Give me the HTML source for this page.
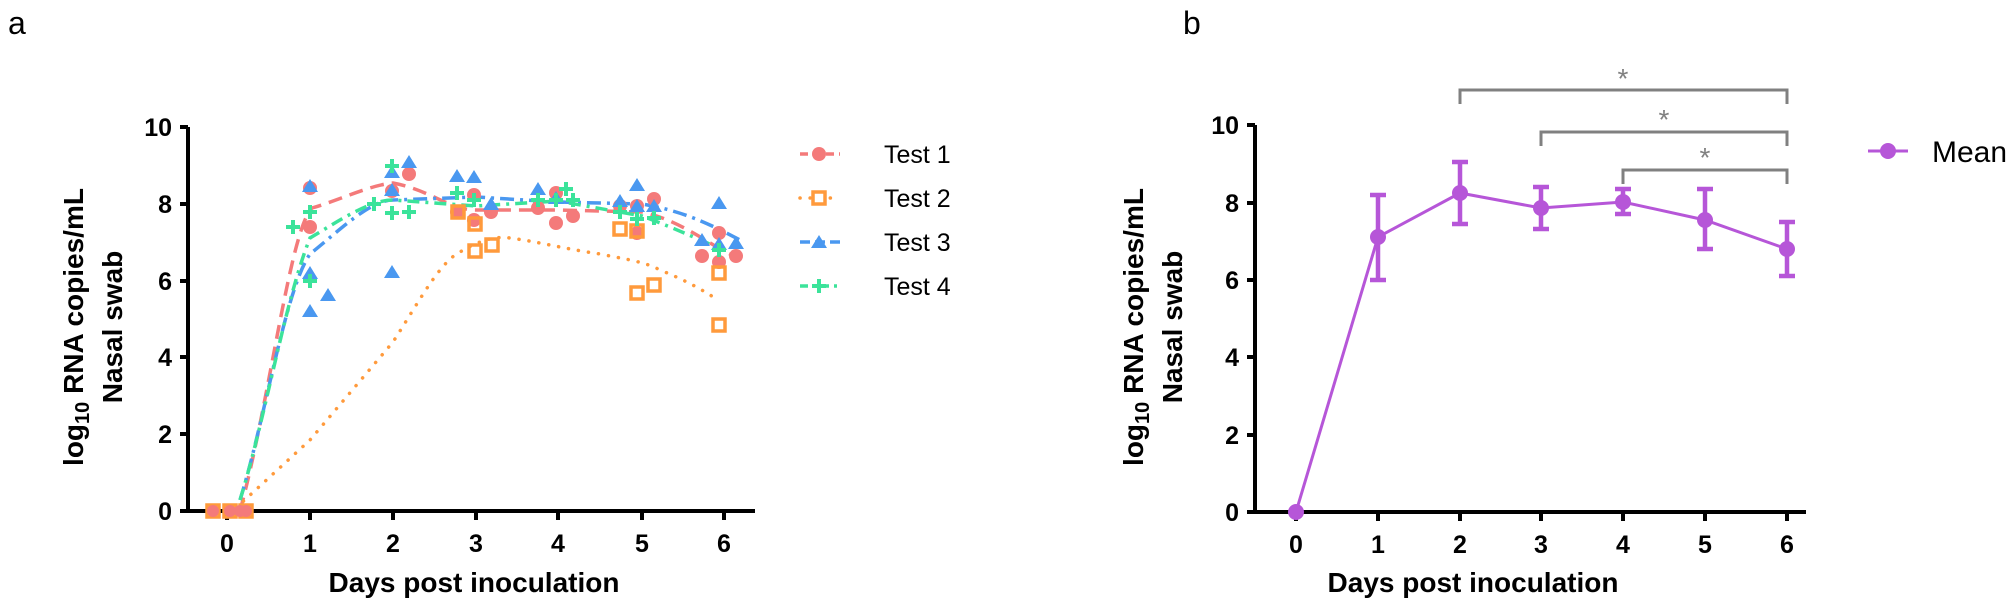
<!DOCTYPE html>
<html><head><meta charset="utf-8"><style>
html,body{margin:0;padding:0;background:#fff;}
svg{display:block;font-family:"Liberation Sans",Arial,sans-serif;}
.tk{font-size:25px;font-weight:bold;fill:#000;}
.lab{font-size:28px;font-weight:bold;fill:#000;}
</style></head><body>
<svg width="2008" height="606" viewBox="0 0 2008 606" xmlns="http://www.w3.org/2000/svg">
<rect width="2008" height="606" fill="#fff"/>
<text x="8" y="34" font-size="32" fill="#000">a</text>
<text x="1183" y="34" font-size="32" fill="#000">b</text>

<!-- PANEL A -->
<g stroke="#000" stroke-width="4" fill="none">
<polyline points="188,127 188,511 755,511"/>
<line x1="180" y1="127" x2="188" y2="127"/><line x1="180" y1="204" x2="188" y2="204"/>
<line x1="180" y1="281" x2="188" y2="281"/><line x1="180" y1="357" x2="188" y2="357"/>
<line x1="180" y1="434" x2="188" y2="434"/><line x1="180" y1="511" x2="188" y2="511"/>
<line x1="227" y1="511" x2="227" y2="520"/><line x1="310" y1="511" x2="310" y2="520"/>
<line x1="393" y1="511" x2="393" y2="520"/><line x1="476" y1="511" x2="476" y2="520"/>
<line x1="558" y1="511" x2="558" y2="520"/><line x1="642" y1="511" x2="642" y2="520"/>
<line x1="724" y1="511" x2="724" y2="520"/>
</g>
<g class="tk" text-anchor="end">
<text x="172" y="136">10</text><text x="172" y="213">8</text><text x="172" y="290">6</text>
<text x="172" y="366">4</text><text x="172" y="443">2</text><text x="172" y="520">0</text>
</g>
<g class="tk" text-anchor="middle">
<text x="227" y="552">0</text><text x="310" y="552">1</text><text x="393" y="552">2</text>
<text x="476" y="552">3</text><text x="558" y="552">4</text><text x="642" y="552">5</text><text x="724" y="552">6</text>
</g>
<text class="lab" x="474" y="592" text-anchor="middle">Days post inoculation</text>
<text class="lab" transform="translate(83,327) rotate(-90)" text-anchor="middle">log<tspan font-size="20" dy="6">10</tspan><tspan dy="-6"> RNA copies/mL</tspan></text>
<text class="lab" transform="translate(122,327) rotate(-90)" text-anchor="middle">Nasal swab</text>

<!-- curves -->
<g fill="none" stroke-width="3.5">
<path d="M240,511 C270,400 290,230 312,208 C340,200 370,185 393,183 C430,190 450,210 476,210 L558,210 L642,212 C680,220 710,245 730,254" stroke="#f47a7a" stroke-dasharray="14,8"/>
<path d="M236,508 L310,440 L393,342 C420,300 440,262 460,252 C480,240 495,236 510,238 C540,242 560,248 600,254 C630,260 645,262 660,270 C690,282 705,292 715,298" stroke="#ff9a3c" stroke-dasharray="0.1,10" stroke-linecap="round"/>
<path d="M240,500 C265,420 285,290 310,254 C340,230 370,200 393,200 L476,197 L558,202 L642,204 C690,212 720,230 740,240" stroke="#4a98f0" stroke-dasharray="14,6,3,6"/>
<path d="M240,500 C265,420 285,300 310,238 C340,220 370,200 393,200 L476,206 L558,201 L642,216 C680,230 710,245 725,250" stroke="#3be39a" stroke-dasharray="12,6,3,6"/>
</g>
<!-- markers -->
<g fill="#f47a7a">
<circle cx="310" cy="188" r="7"/><circle cx="310" cy="227" r="7"/><circle cx="392" cy="191" r="7"/><circle cx="409" cy="174" r="7"/>
<circle cx="457" cy="212" r="7"/><circle cx="474" cy="195" r="7"/><circle cx="474" cy="220" r="7"/><circle cx="491" cy="212" r="7"/>
<circle cx="538" cy="208" r="7"/><circle cx="556" cy="193" r="7"/><circle cx="556" cy="223" r="7"/><circle cx="573" cy="216" r="7"/>
<circle cx="620" cy="206" r="7"/><circle cx="637" cy="206" r="7"/><circle cx="637" cy="233" r="7"/><circle cx="654" cy="199" r="7"/>
<circle cx="702" cy="256" r="7"/><circle cx="719" cy="233" r="7"/><circle cx="719" cy="262" r="7"/><circle cx="736" cy="256" r="7"/>
</g>
<g fill="none" stroke="#ff9a3c" stroke-width="3.5">
<rect x="452" y="206" width="12" height="12"/><rect x="469" y="218" width="12" height="12"/><rect x="469" y="245" width="12" height="12"/>
<rect x="486" y="239" width="12" height="12"/><rect x="614" y="223" width="12" height="12"/><rect x="631" y="225" width="12" height="12"/>
<rect x="648" y="279" width="12" height="12"/><rect x="631" y="287" width="12" height="12"/><rect x="713" y="267" width="12" height="12"/>
<rect x="713" y="319" width="12" height="12"/>
<rect x="207" y="505" width="12" height="12"/><rect x="224" y="505" width="12" height="12"/><rect x="240" y="505" width="12" height="12"/>
</g>
<g fill="#f47a7a"><circle cx="213" cy="511" r="6"/><circle cx="230" cy="511" r="6"/><circle cx="240" cy="511" r="6"/><circle cx="246" cy="511" r="6"/></g>
<g fill="#4a98f0">
<path d="M310,179 l8,13 h-16z"/><path d="M310,266 l8,13 h-16z"/><path d="M310,304 l8,13 h-16z"/><path d="M328,288 l8,13 h-16z"/>
<path d="M392,165 l8,13 h-16z"/><path d="M409,155 l8,13 h-16z"/><path d="M392,183 l8,13 h-16z"/><path d="M392,265 l8,13 h-16z"/>
<path d="M457,169 l8,13 h-16z"/><path d="M474,170 l8,13 h-16z"/><path d="M491,197 l8,13 h-16z"/>
<path d="M538,182 l8,13 h-16z"/><path d="M556,191 l8,13 h-16z"/>
<path d="M620,194 l8,13 h-16z"/><path d="M637,178 l8,13 h-16z"/><path d="M637,199 l8,13 h-16z"/><path d="M654,199 l8,13 h-16z"/>
<path d="M702,233 l8,13 h-16z"/><path d="M719,196 l8,13 h-16z"/><path d="M719,237 l8,13 h-16z"/><path d="M736,236 l8,13 h-16z"/>
</g>
<g stroke="#3be39a" stroke-width="4">
<path d="M286,227h14M293,220v14"/><path d="M303,212h14M310,205v14"/><path d="M303,281h14M310,274v14"/>
<path d="M385,166h14M392,159v14"/><path d="M367,204h14M374,197v14"/><path d="M385,213h14M392,206v14"/><path d="M402,212h14M409,205v14"/>
<path d="M450,193h14M457,186v14"/><path d="M467,200h14M474,193v14"/><path d="M531,200h14M538,193v14"/><path d="M549,200h14M556,193v14"/>
<path d="M559,189h14M566,182v14"/><path d="M566,200h14M573,193v14"/>
<path d="M613,212h14M620,205v14"/><path d="M630,219h14M637,212v14"/><path d="M647,218h14M654,211v14"/><path d="M712,250h14M719,243v14"/>
</g>
<!-- legend a -->
<g stroke-width="3.5" fill="none">
<line x1="800" y1="154" x2="840" y2="154" stroke="#f47a7a" stroke-dasharray="8,5"/>
<line x1="800" y1="198" x2="840" y2="198" stroke="#ff9a3c" stroke-dasharray="0.1,10" stroke-linecap="round"/>
<line x1="800" y1="242" x2="840" y2="242" stroke="#4a98f0" stroke-dasharray="10,5"/>
<line x1="800" y1="286" x2="840" y2="286" stroke="#3be39a" stroke-dasharray="8,5,3,5"/>
</g>
<circle cx="819" cy="154" r="7" fill="#f47a7a"/>
<rect x="813" y="192" width="12" height="12" fill="#fff" stroke="#ff9a3c" stroke-width="3.5"/>
<path d="M819,235 l8,13 h-16z" fill="#4a98f0"/>
<path d="M812,286h14M819,279v14" stroke="#3be39a" stroke-width="4"/>
<g font-size="25" fill="#000">
<text x="884" y="163">Test 1</text><text x="884" y="207">Test 2</text><text x="884" y="251">Test 3</text><text x="884" y="295">Test 4</text>
</g>

<!-- PANEL B -->
<g stroke="#000" stroke-width="4" fill="none">
<polyline points="1255,125 1255,512 1806,512"/>
<line x1="1247" y1="125" x2="1255" y2="125"/><line x1="1247" y1="203" x2="1255" y2="203"/>
<line x1="1247" y1="280" x2="1255" y2="280"/><line x1="1247" y1="357" x2="1255" y2="357"/>
<line x1="1247" y1="435" x2="1255" y2="435"/><line x1="1247" y1="512" x2="1255" y2="512"/>
<line x1="1296" y1="512" x2="1296" y2="521"/><line x1="1378" y1="512" x2="1378" y2="521"/>
<line x1="1460" y1="512" x2="1460" y2="521"/><line x1="1541" y1="512" x2="1541" y2="521"/>
<line x1="1623" y1="512" x2="1623" y2="521"/><line x1="1705" y1="512" x2="1705" y2="521"/>
<line x1="1787" y1="512" x2="1787" y2="521"/>
</g>
<g class="tk" text-anchor="end">
<text x="1239" y="134">10</text><text x="1239" y="212">8</text><text x="1239" y="289">6</text>
<text x="1239" y="366">4</text><text x="1239" y="444">2</text><text x="1239" y="521">0</text>
</g>
<g class="tk" text-anchor="middle">
<text x="1296" y="553">0</text><text x="1378" y="553">1</text><text x="1460" y="553">2</text>
<text x="1541" y="553">3</text><text x="1623" y="553">4</text><text x="1705" y="553">5</text><text x="1787" y="553">6</text>
</g>
<text class="lab" x="1473" y="592" text-anchor="middle">Days post inoculation</text>
<text class="lab" transform="translate(1143,327) rotate(-90)" text-anchor="middle">log<tspan font-size="20" dy="6">10</tspan><tspan dy="-6"> RNA copies/mL</tspan></text>
<text class="lab" transform="translate(1182,327) rotate(-90)" text-anchor="middle">Nasal swab</text>

<!-- brackets -->
<g stroke="#808080" stroke-width="3" fill="none">
<polyline points="1460,104 1460,90 1787,90 1787,104"/>
<polyline points="1541,146 1541,132 1787,132 1787,146"/>
<polyline points="1623,184 1623,170 1787,170 1787,184"/>
</g>
<g fill="#808080" font-size="28" text-anchor="middle">
<text x="1623" y="88">*</text><text x="1664" y="129">*</text><text x="1705" y="167">*</text>
</g>

<g stroke="#b656d8" fill="none">
<polyline stroke-width="3" points="1296,512 1378,237 1460,193 1541,208 1623,202 1705,220 1787,249"/>
<g stroke-width="4.5">
<path d="M1378,195V280M1370,195h16M1370,280h16"/>
<path d="M1460,162V224M1452,162h16M1452,224h16"/>
<path d="M1541,187V229M1533,187h16M1533,229h16"/>
<path d="M1623,189V214M1615,189h16M1615,214h16"/>
<path d="M1705,189V249M1697,189h16M1697,249h16"/>
<path d="M1787,222V276M1779,222h16M1779,276h16"/>
</g>
</g>
<g fill="#b656d8">
<circle cx="1296" cy="512" r="8"/><circle cx="1378" cy="237" r="8"/><circle cx="1460" cy="193" r="8"/>
<circle cx="1541" cy="208" r="8"/><circle cx="1623" cy="202" r="8"/><circle cx="1705" cy="220" r="8"/><circle cx="1787" cy="249" r="8"/>
</g>
<line x1="1868" y1="151" x2="1908" y2="151" stroke="#b656d8" stroke-width="3"/>
<circle cx="1888" cy="151" r="8" fill="#b656d8"/>
<text x="1932" y="162" font-size="30" fill="#000">Mean</text>
</svg>
</body></html>
